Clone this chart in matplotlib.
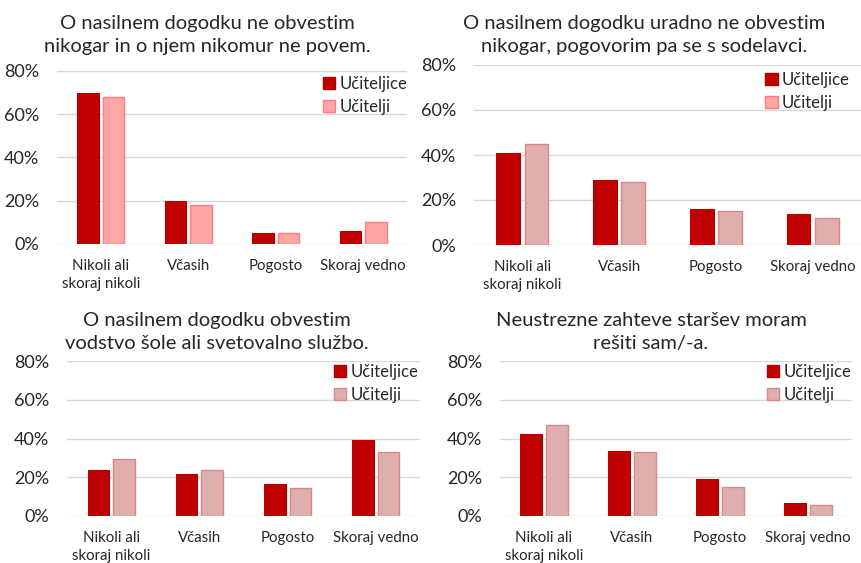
import matplotlib
matplotlib.use("Agg")
import matplotlib.pyplot as plt
from matplotlib.patches import Patch
import numpy as np

plt.rcParams['font.family'] = ['Lato', 'DejaVu Sans']

categories = ["Nikoli ali\nskoraj nikoli", "Včasih", "Pogosto", "Skoraj vedno"]
series_names = ["Učiteljice", "Učitelji"]
y_ticks = [0, 20, 40, 60, 80]
y_tick_labels = ["0%", "20%", "40%", "60%", "80%"]

titles = [
    "O nasilnem dogodku ne obvestim\nnikogar in o njem nikomur ne povem.",
    "O nasilnem dogodku uradno ne obvestim\nnikogar, pogovorim pa se s sodelavci.",
    "O nasilnem dogodku obvestim\nvodstvo šole ali svetovalno službo.",
    "Neustrezne zahteve staršev moram\nrešiti sam/-a.",
]

p1_uciteljice = [70, 20, 5, 6]
p1_ucitelji = [68, 18, 5, 10]
p2_uciteljice = [41, 29, 16, 14]
p2_ucitelji = [45, 28, 15, 12]
p3_uciteljice = [23.5, 21.8, 16.6, 39.3]
p3_ucitelji = [29.2, 23.9, 14.6, 32.8]
p4_uciteljice = [42.4, 33.6, 18.9, 6.7]
p4_ucitelji = [47.0, 33.0, 14.9, 5.7]

W, H = 862, 563
fig = plt.figure(figsize=(W / 100, H / 100), dpi=100)

def px_axes(x0, x1, ytop, ybot):
    return fig.add_axes([x0 / W, 1 - ybot / H, (x1 - x0) / W, (ybot - ytop) / H])

DARK = "#C00000"
DARK_EDGE = "#B00000"
PINK1 = "#FFA6A6"
PINK1_EDGE = "#FF7C80"
PINK2 = "#DFAFAF"
PINK2_EDGE = "#D48A8A"

panels = [
    dict(box=(57, 407, 71, 244), data=(p1_uciteljice, p1_ucitelji), pink=(PINK1, PINK1_EDGE),
         legpink=(PINK1, PINK1_EDGE), title_xy=(207, 35), leg=(404, 76)),
    dict(box=(474, 861, 65, 245), data=(p2_uciteljice, p2_ucitelji), pink=(PINK2, PINK2_EDGE),
         legpink=(PINK1, PINK1_EDGE), title_xy=(644, 35), leg=(846, 72)),
    dict(box=(67, 420, 361, 516), data=(p3_uciteljice, p3_ucitelji), pink=(PINK2, PINK2_EDGE),
         legpink=(PINK2, PINK2_EDGE), title_xy=(217, 332), leg=(415, 364)),
    dict(box=(500, 852, 361, 516), data=(p4_uciteljice, p4_ucitelji), pink=(PINK2, PINK2_EDGE),
         legpink=(PINK2, PINK2_EDGE), title_xy=(651, 332), leg=(848, 364)),
]

x = np.arange(len(categories))
bw = 0.245
off = 0.145

for i, p in enumerate(panels):
    x0, x1, yt, yb = p["box"]
    ax = px_axes(x0, x1, yt, yb)
    a, b = p["data"]
    ax.bar(x - off, a, bw, color=DARK, edgecolor=DARK_EDGE, linewidth=0.8, zorder=3)
    ax.bar(x + off, b, bw, color=p["pink"][0], edgecolor=p["pink"][1], linewidth=1.0, zorder=3)
    ax.set_xlim(-0.5, 3.5)
    ax.set_ylim(0, 80)
    ax.set_yticks(y_ticks)
    ax.set_yticklabels(y_tick_labels)
    ax.set_xticks(x)
    ax.set_xticklabels(categories, fontsize=10.8, color="#262626", linespacing=1.3)
    ax.tick_params(axis='y', length=0, pad=13, labelsize=13, labelcolor="#262626")
    ax.tick_params(axis='x', length=0, pad=11)
    for s in ax.spines.values():
        s.set_visible(False)
    ax.grid(axis='y', color="#D9D9D9", linewidth=1.0, zorder=0)
    ax.set_axisbelow(True)
    ax.patch.set_alpha(0)
    handles = [Patch(facecolor=DARK, edgecolor=DARK_EDGE),
               Patch(facecolor=p["legpink"][0], edgecolor=p["legpink"][1])]
    lx, ly = p["leg"]
    leg = ax.legend(handles, series_names, loc='upper right',
                    bbox_to_anchor=((lx - x0) / (x1 - x0) + 0.01, 1 - (ly - yt) / (yb - yt)),
                    frameon=False, fontsize=12, handlelength=0.75, handleheight=0.75,
                    handletextpad=0.25, labelspacing=0.4, borderpad=0.0, borderaxespad=0.0)
    for t in leg.get_texts():
        t.set_color("#262626")
    tx, ty = p["title_xy"]
    fig.text(tx / W, 1 - ty / H, titles[i], ha='center', va='center', fontsize=14.5,
             color="#262626", linespacing=1.45)

fig.savefig("out.png", dpi=100, facecolor="white")
